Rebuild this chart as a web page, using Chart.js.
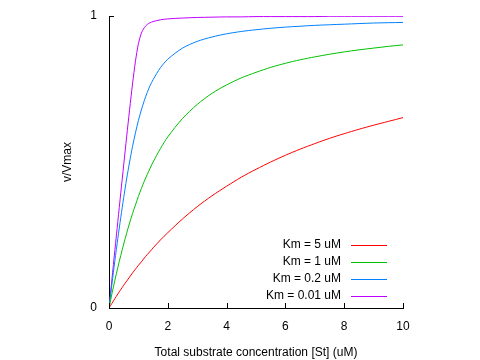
<!DOCTYPE html>
<html>
<head>
<meta charset="utf-8">
<script src="https://cdn.jsdelivr.net/npm/chart.js@4"></script>
<style>
  body { margin: 0; background: #fff; }
  #wrap { width: 480px; height: 360px; }
</style>
</head>
<body>
<div id="wrap"><canvas id="chart"></canvas></div>
<script>
// substrate concentration [St] (uM)
const substrate = [0, 0.1, 0.2, 0.3, 0.4, 0.5, 0.6, 0.7, 0.8, 0.9, 1.0, 1.1, 1.2, 1.3, 1.4, 1.5,
  1.75, 2, 2.5, 3, 3.5, 4, 4.5, 5, 5.5, 6, 6.5, 7, 7.5, 8, 8.5, 9, 9.5, 10];

// v/Vmax
const km5 = [0, 0.016, 0.032, 0.048, 0.063, 0.078, 0.092, 0.106, 0.120, 0.133, 0.146, 0.158, 0.171, 0.183, 0.194, 0.206,
  0.233, 0.258, 0.305, 0.347, 0.384, 0.417, 0.448, 0.475, 0.500, 0.523, 0.544, 0.563, 0.581, 0.597, 0.612, 0.626, 0.639, 0.652];
const km1 = [0, 0.049, 0.095, 0.139, 0.180, 0.219, 0.256, 0.291, 0.323, 0.353, 0.382, 0.409, 0.434, 0.457, 0.479, 0.500,
  0.546, 0.586, 0.649, 0.697, 0.735, 0.764, 0.788, 0.807, 0.824, 0.838, 0.850, 0.860, 0.869, 0.877, 0.884, 0.890, 0.896, 0.901];
const km02 = [0, 0.082, 0.162, 0.238, 0.310, 0.378, 0.442, 0.500, 0.553, 0.600, 0.642, 0.678, 0.710, 0.738, 0.762, 0.782,
  0.823, 0.852, 0.890, 0.913, 0.928, 0.939, 0.947, 0.953, 0.958, 0.962, 0.965, 0.968, 0.970, 0.972, 0.974, 0.976, 0.977, 0.978];
const km001 = [0, 0.099, 0.198, 0.296, 0.394, 0.490, 0.586, 0.679, 0.767, 0.845, 0.905, 0.941, 0.960, 0.971, 0.977, 0.981,
  0.987, 0.990, 0.993, 0.995, 0.996, 0.997, 0.997, 0.998, 0.998, 0.998, 0.998, 0.998, 0.999, 0.999, 0.999, 0.999, 0.999, 0.999];

const seriesLabels = ['Km = 5 uM', 'Km = 1 uM', 'Km = 0.2 uM', 'Km = 0.01 uM'];
const seriesColors = ['#ff0000', '#00c000', '#0080ff', '#c000ff'];
const xTicks = [0, 2, 4, 6, 8, 10];
const yTicks = [0, 1];
const yTitle = 'v/Vmax';

const FONT = 'Liberation Sans, Arial, sans-serif';

function toPoints(ys) {
  return substrate.map((x, i) => ({ x: x, y: ys[i] }));
}

// tics pointing into the plot, like gnuplot, plus the rotated y label
const inwardTicks = {
  id: 'inwardTicks',
  afterDraw(chart) {
    const ctx = chart.ctx;
    const xs = chart.scales.x, ys = chart.scales.y;
    const area = chart.chartArea;
    ctx.save();
    ctx.strokeStyle = '#000';
    ctx.lineWidth = 1;
    ctx.beginPath();
    xTicks.forEach(v => {
      const px = Math.round(xs.getPixelForValue(v)) + 0.5;
      ctx.moveTo(px, area.bottom);
      ctx.lineTo(px, area.bottom - 5);
    });
    yTicks.forEach(v => {
      const py = Math.round(ys.getPixelForValue(v)) + 0.5;
      ctx.moveTo(area.left, py);
      ctx.lineTo(area.left + 5, py);
    });
    ctx.stroke();

    ctx.translate(68, (area.top + area.bottom) / 2);
    ctx.rotate(-Math.PI / 2);
    ctx.font = '12px ' + FONT;
    ctx.fillStyle = '#000';
    ctx.textAlign = 'center';
    ctx.textBaseline = 'middle';
    ctx.fillText(yTitle, 0, 0);
    ctx.restore();
  }
};

// key in the lower right: text right aligned, sample line after it
const keyBox = {
  id: 'keyBox',
  afterDraw(chart) {
    const ctx = chart.ctx;
    ctx.save();
    ctx.font = '12px ' + FONT;
    ctx.textAlign = 'right';
    ctx.textBaseline = 'middle';
    chart.data.datasets.forEach((ds, i) => {
      const y = 245 + i * 17;
      ctx.fillStyle = '#000';
      ctx.fillText(ds.label, 341, y);
      ctx.strokeStyle = ds.borderColor;
      ctx.lineWidth = 1;
      ctx.beginPath();
      ctx.moveTo(351, y + 0.5);
      ctx.lineTo(387, y + 0.5);
      ctx.stroke();
    });
    ctx.restore();
  }
};

new Chart(document.getElementById('chart'), {
  type: 'line',
  data: {
    datasets: [km5, km1, km02, km001].map((ys, i) => ({
      label: seriesLabels[i],
      data: toPoints(ys),
      borderColor: seriesColors[i],
      borderWidth: 1,
      pointRadius: 0,
      tension: 0.3,
      fill: false
    }))
  },
  options: {
    responsive: true,
    maintainAspectRatio: false,
    animation: false,
    layout: { padding: { top: 16, right: 77, left: 0, bottom: 0 } },
    plugins: {
      legend: { display: false },
      tooltip: { enabled: false }
    },
    scales: {
      x: {
        type: 'linear',
        min: 0,
        max: 10,
        afterFit(scale) { scale.height = 52; },
        afterBuildTicks(scale) { scale.ticks = xTicks.map(v => ({ value: v })); },
        grid: { display: true, drawOnChartArea: false, drawTicks: true, tickLength: 8, tickColor: 'rgba(0,0,0,0)' },
        border: { display: true, color: '#000', width: 1 },
        ticks: { color: '#000', padding: 3, maxRotation: 0, font: { family: FONT, size: 12 } },
        title: {
          display: true,
          text: 'Total substrate concentration [St] (uM)',
          color: '#000',
          font: { family: FONT, size: 12 },
          padding: { top: 12, bottom: 0 }
        }
      },
      y: {
        type: 'linear',
        min: 0,
        max: 1,
        afterFit(scale) { scale.width = 109; },
        afterBuildTicks(scale) { scale.ticks = yTicks.map(v => ({ value: v })); },
        grid: { display: true, drawOnChartArea: false, drawTicks: true, tickLength: 9, tickColor: 'rgba(0,0,0,0)' },
        border: { display: true, color: '#000', width: 1 },
        ticks: { color: '#000', padding: 3, font: { family: FONT, size: 12 } },
        title: { display: false }
      }
    }
  },
  plugins: [inwardTicks, keyBox]
});
</script>
</body>
</html>
